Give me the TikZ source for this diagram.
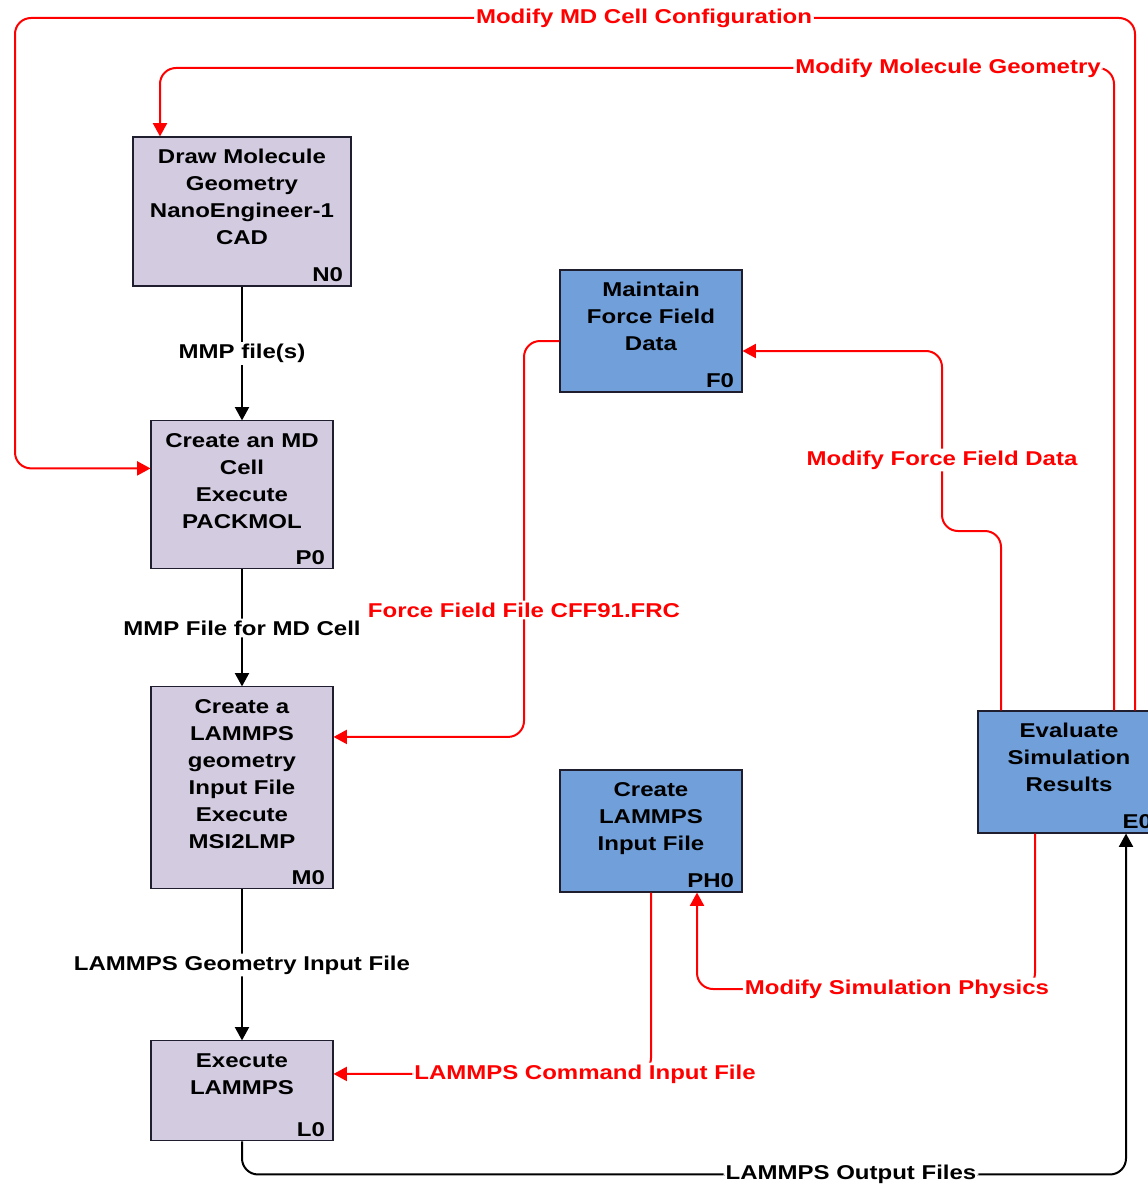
\documentclass[tikz,border=0pt]{standalone}
\usepackage{fontspec}
\setmainfont{Liberation Sans}[FakeStretch=1.2]
\usepackage{tikz}
\usetikzlibrary{arrows.meta, positioning, calc}
\definecolor{bglav}{HTML}{D3CBE0}
\definecolor{bgblue}{HTML}{709FD9}
\definecolor{boxline}{HTML}{1E1E2E}
\definecolor{linkred}{HTML}{FF0000}
\newcommand{\boxfont}{\fontsize{15}{20.25}\selectfont\bfseries}
\newcommand{\boxbody}[4]{\parbox[t][#2][t]{#1}{\centering\rule{0pt}{17pt}#3\par\vfill\raggedleft #4\hspace*{3pt}\par}}
\tikzset{
  procbox/.style = {draw=boxline, line width=0.8pt, fill=bglav,
                    inner sep=3pt, font=\boxfont},
  physbox/.style = {procbox, fill=bgblue},
  flow/.style    = {-{Triangle[length=10pt,width=10.5pt]}, line width=1.5pt,
                    rounded corners=12pt},
  redflow/.style = {flow, draw=linkred},
  lbl/.style     = {fill=white, inner sep=1.5pt, font=\boxfont},
  redlbl/.style  = {lbl, text=linkred},
}
\begin{document}
\begin{tikzpicture}[x=0.75pt, y=-0.75pt]
    \useasboundingbox (0,0) rectangle (1147,1188);

    \node[procbox] (n0) at (242,211.5)
        {\boxbody{157.5pt}{105.75pt}{Draw Molecule\\Geometry\\NanoEngineer-1\\CAD}{N0}};
    \node[procbox, below=100.4pt of n0] (p0)
        {\boxbody{130.5pt}{105pt}{Create an MD\\Cell\\Execute\\PACKMOL}{P0}};
    \node[procbox, below=87.7pt of p0] (m0)
        {\boxbody{130.5pt}{145.5pt}{Create a\\LAMMPS\\geometry\\Input File\\Execute\\MSI2LMP}{M0}};
    \node[procbox, below=113.2pt of m0] (l0)
        {\boxbody{130.5pt}{69pt}{Execute\\LAMMPS}{L0}};

    \node[physbox] (f0) at (651,331)
        {\boxbody{130.5pt}{85.5pt}{Maintain\\Force Field\\Data}{F0}};
    \node[physbox, below=282.7pt of f0] (ph0)
        {\boxbody{130.5pt}{85.5pt}{Create\\LAMMPS\\Input File}{PH0}};
    \node[physbox] (e0) at (1069,772)
        {\boxbody{130.5pt}{85.5pt}{Evaluate\\Simulation\\Results}{E0}};

    % main chain
    \draw[flow] (n0) -- node[lbl] {MMP file(s)} (p0);
    \draw[flow] (p0) -- node[lbl] {MMP File for MD Cell} (m0);
    \draw[flow] (m0) -- node[lbl] {LAMMPS Geometry Input File} (l0);
    \draw[flow] (l0.south) -- ++(0,33) -| ($(e0.south)+(57,0)$)
        node[lbl] at (851,1174) {LAMMPS Output Files};

    % feedback loops
    \draw[redflow] ($(e0.north)+(66,0)$) |- (15,18) |- ($(p0.north west)+(0,48)$)
        node[redlbl] at (644,18) {Modify MD Cell Configuration};
    \draw[redflow] ($(e0.north)+(45,0)$) |- (160,68) -- ($(n0.north)+(-82,0)$)
        node[redlbl] at (948,68) {Modify Molecule Geometry};
    \draw[redflow] ($(e0.north)+(-68,0)$) |- (942,531) |- ($(f0.east)+(0,20)$)
        node[redlbl] at (942,460) {Modify Force Field Data};
    \draw[redflow] ($(f0.west)+(0,10)$) -| (524,600) |- ($(m0.east)+(0,-51)$)
        node[redlbl] at (524,610) {Force Field File CFF91.FRC};
    \draw[redflow] ($(e0.south)+(-34,0)$) |- (697,989) -- ($(ph0.south)+(46,0)$)
        node[redlbl] at (897,989) {Modify Simulation Physics};
    \draw[redflow] (ph0.south) |- ($(l0.east)+(0,-17)$)
        node[redlbl] at (585,1074) {LAMMPS Command Input File};
\end{tikzpicture}
\end{document}
